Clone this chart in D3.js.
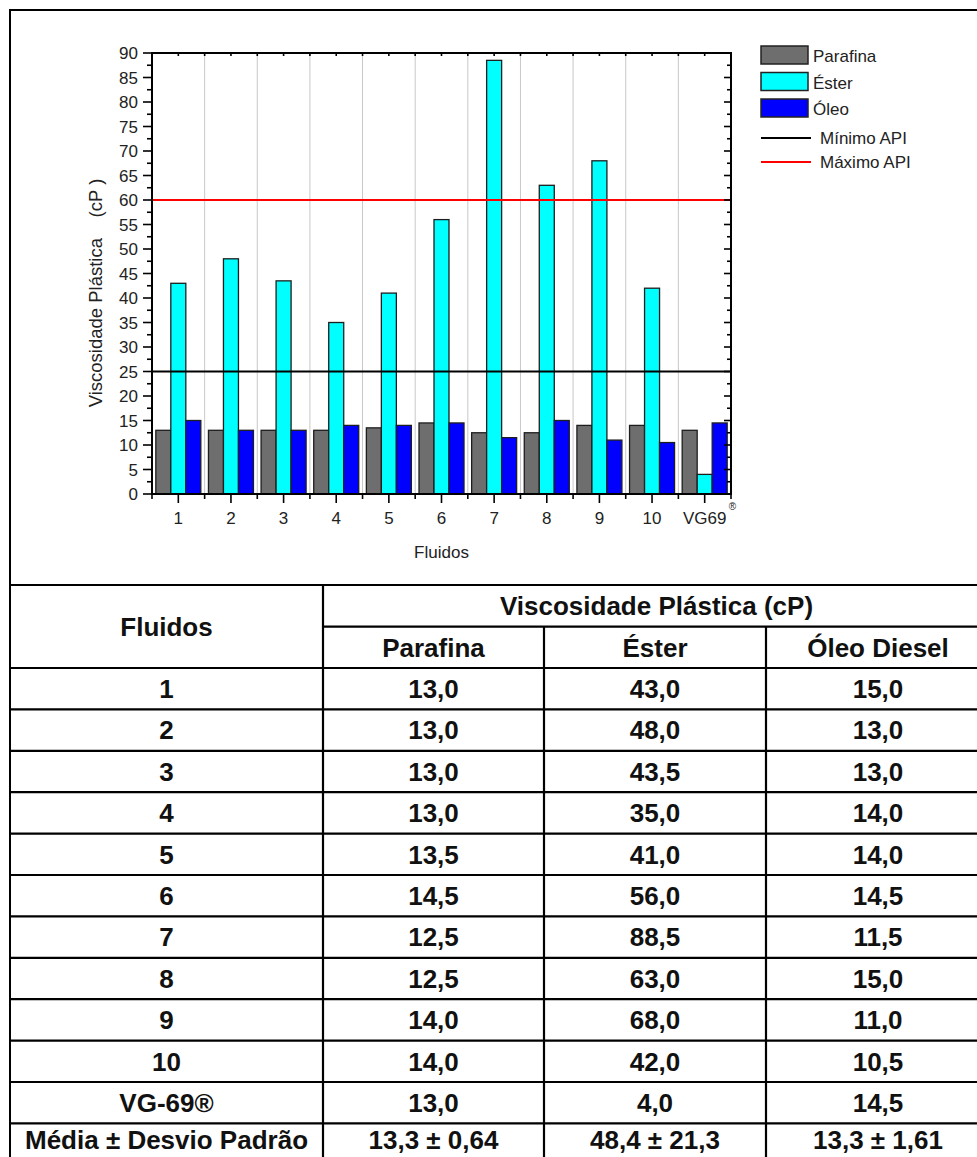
<!DOCTYPE html>
<html>
<head>
<meta charset="utf-8">
<script src="https://cdn.jsdelivr.net/npm/d3@7"></script>
<style>
  html, body { margin: 0; padding: 0; background: #fff; }
  svg { display: block; font-family: "Liberation Sans", Arial, sans-serif; }
</style>
</head>
<body>
<script>
// ---------------- DATA ----------------
const categories = ["1", "2", "3", "4", "5", "6", "7", "8", "9", "10", "VG69"];
const parafina = [13.0, 13.0, 13.0, 13.0, 13.5, 14.5, 12.5, 12.5, 14.0, 14.0, 13.0];
const ester    = [43.0, 48.0, 43.5, 35.0, 41.0, 56.0, 88.5, 63.0, 68.0, 42.0, 4.0];
const oleo     = [15.0, 13.0, 13.0, 14.0, 14.0, 14.5, 11.5, 15.0, 11.0, 10.5, 14.5];
const seriesNames = ["Parafina", "Éster", "Óleo"];
const apiMin = 25;
const apiMax = 60;
const lineNames = ["Mínimo API", "Máximo API"];
const yTicks = d3.range(0, 91, 5);
const yLabel = "Viscosidade Plástica    (cP )";
const xLabel = "Fluidos";

const tableRowLabels = ["1", "2", "3", "4", "5", "6", "7", "8", "9", "10", "VG-69®"];
const tableHeaderTop = "Viscosidade Plástica (cP)";
const tableHeaderCols = ["Parafina", "Éster", "Óleo Diesel"];
const tableFirstHeader = "Fluidos";
const meanLabel = "Média ± Desvio Padrão";
const meanValues = ["13,3 ± 0,64", "48,4 ± 21,3", "13,3 ± 1,61"];

// ---------------- SETUP ----------------
const W = 977, H = 1157;
const svg = d3.select("body").append("svg").attr("width", W).attr("height", H);

// outer frame
svg.append("rect").attr("x", 10).attr("y", 10).attr("width", 990).attr("height", 1170)
  .attr("fill", "#fff").attr("stroke", "#000").attr("stroke-width", 2);

// ---------------- CHART ----------------
const L = 152, R = 731, T = 53, B = 494;
const x = d3.scaleLinear().domain([0.5, categories.length + 0.5]).range([L, R]);
const y = d3.scaleLinear().domain([0, 90]).range([B, T]);
const fs = 17;

// vertical grid lines between groups
const g = svg.append("g");
g.selectAll("line.grid").data(d3.range(1.5, categories.length, 1)).join("line")
  .attr("x1", d => x(d)).attr("x2", d => x(d)).attr("y1", T).attr("y2", B)
  .attr("stroke", "#c8c8c8").attr("stroke-width", 1);

// bars
const colors = ["#6e6e6e", "#00ffff", "#0000ff"];
const series = [parafina, ester, oleo];
const bw = 15;
series.forEach((vals, si) => {
  g.selectAll("rect.s" + si).data(vals).join("rect")
    .attr("x", (d, i) => x(i + 1) - 1.5 * bw + si * bw)
    .attr("y", d => y(d))
    .attr("width", bw)
    .attr("height", d => y(0) - y(d))
    .attr("fill", colors[si])
    .attr("stroke", "#1e1e1e").attr("stroke-width", 1.3);
});

// API lines
g.append("line").attr("x1", L).attr("x2", R).attr("y1", y(apiMin)).attr("y2", y(apiMin))
  .attr("stroke", "#000").attr("stroke-width", 2);
g.append("line").attr("x1", L).attr("x2", R).attr("y1", y(apiMax)).attr("y2", y(apiMax))
  .attr("stroke", "#ff0000").attr("stroke-width", 2);

// axes frame
const ax = svg.append("g").attr("stroke", "#000").attr("stroke-width", 2).attr("fill", "none");
ax.append("line").attr("x1", L).attr("x2", L).attr("y1", T).attr("y2", B + 1);
ax.append("line").attr("x1", R).attr("x2", R).attr("y1", T).attr("y2", B + 1);
ax.append("line").attr("x1", L - 1).attr("x2", R + 1).attr("y1", T).attr("y2", T);
ax.append("line").attr("x1", L - 1).attr("x2", R + 1).attr("y1", B).attr("y2", B);

// left axis ticks (outside) + labels
const minorY = d3.range(2.5, 90, 5);
svg.selectAll("line.ymaj").data(yTicks).join("line")
  .attr("x1", L - 9).attr("x2", L).attr("y1", d => y(d)).attr("y2", d => y(d))
  .attr("stroke", "#000").attr("stroke-width", 1.6);
svg.selectAll("line.ymin").data(minorY).join("line")
  .attr("x1", L - 5).attr("x2", L).attr("y1", d => y(d)).attr("y2", d => y(d))
  .attr("stroke", "#000").attr("stroke-width", 1.6);
// right axis ticks (inside)
svg.selectAll("line.yrmaj").data(yTicks).join("line")
  .attr("x1", R - 7).attr("x2", R).attr("y1", d => y(d)).attr("y2", d => y(d))
  .attr("stroke", "#000").attr("stroke-width", 1.6);
svg.selectAll("line.yrmin").data(minorY).join("line")
  .attr("x1", R - 4).attr("x2", R).attr("y1", d => y(d)).attr("y2", d => y(d))
  .attr("stroke", "#000").attr("stroke-width", 1.6);
svg.selectAll("text.ytl").data(yTicks).join("text")
  .attr("x", L - 14).attr("y", d => y(d) + 6)
  .attr("text-anchor", "end").attr("font-size", fs).attr("fill", "#222")
  .text(d => d);

// bottom axis ticks
const xMaj = d3.range(1, categories.length + 1);
const xMin = d3.range(0.5, categories.length + 1, 1);
svg.selectAll("line.xmaj").data(xMaj).join("line")
  .attr("x1", d => x(d)).attr("x2", d => x(d)).attr("y1", B).attr("y2", B + 9)
  .attr("stroke", "#000").attr("stroke-width", 1.6);
svg.selectAll("line.xmin").data(xMin).join("line")
  .attr("x1", d => x(d)).attr("x2", d => x(d)).attr("y1", B).attr("y2", B + 5)
  .attr("stroke", "#000").attr("stroke-width", 1.6);
// top axis ticks (inside)
svg.selectAll("line.xtmaj").data(xMaj.concat(xMin)).join("line")
  .attr("x1", d => x(d)).attr("x2", d => x(d)).attr("y1", T).attr("y2", T + 3)
  .attr("stroke", "#000").attr("stroke-width", 1.6);

// x tick labels
svg.selectAll("text.xtl").data(categories).join("text")
  .attr("x", (d, i) => x(i + 1)).attr("y", 524)
  .attr("text-anchor", "middle").attr("font-size", fs).attr("fill", "#222")
  .text(d => d);
// registered mark on VG69
svg.append("text").attr("x", x(categories.length) + 24).attr("y", 510)
  .attr("font-size", 10).attr("fill", "#222").attr("text-anchor", "start").text("®");

// axis titles
svg.append("text").attr("x", (L + R) / 2).attr("y", 558)
  .attr("text-anchor", "middle").attr("font-size", fs).attr("fill", "#222").text(xLabel);
svg.append("text")
  .attr("transform", `translate(102, ${293}) rotate(-90)`)
  .attr("text-anchor", "middle").attr("font-size", 18.5).attr("fill", "#222")
  .style("white-space", "pre").text(yLabel);

// legend
const lg = svg.append("g");
seriesNames.forEach((n, i) => {
  const yy = 46 + i * 26.5;
  lg.append("rect").attr("x", 761).attr("y", yy).attr("width", 47).attr("height", 18)
    .attr("fill", colors[i]).attr("stroke", "#222").attr("stroke-width", 1.5);
  lg.append("text").attr("x", 813).attr("y", yy + 16).attr("font-size", fs).attr("fill", "#222").text(n);
});
const lineColors = ["#000", "#ff0000"];
lineNames.forEach((n, i) => {
  const yy = 138 + i * 24;
  lg.append("line").attr("x1", 761).attr("x2", 811).attr("y1", yy).attr("y2", yy)
    .attr("stroke", lineColors[i]).attr("stroke-width", 2);
  lg.append("text").attr("x", 820).attr("y", yy + 6).attr("font-size", fs).attr("fill", "#222").text(n);
});

// ---------------- TABLE ----------------
const tT = 585, hMid = 626.7, dTop = 668, rowH = 41.4;
const colX = [10, 323, 544, 766, 990];
const tfs = 26;
const tg = svg.append("g");
const tl = (x1, y1, x2, y2) => tg.append("line").attr("x1", x1).attr("y1", y1).attr("x2", x2).attr("y2", y2)
  .attr("stroke", "#000").attr("stroke-width", 2.2);

const nRows = tableRowLabels.length + 1;
const tBottom = dTop + nRows * rowH;
tl(10, tT, 990, tT);
tl(colX[1], hMid, 990, hMid);
for (let r = 0; r < nRows; r++) tl(10, dTop + r * rowH, 990, dTop + r * rowH);
tl(colX[1], tT, colX[1], tBottom + 20);
tl(colX[2], hMid, colX[2], tBottom + 20);
tl(colX[3], hMid, colX[3], tBottom + 20);

const cell = (txt, cx, cy) => tg.append("text").attr("x", cx).attr("y", cy + tfs * 0.36)
  .attr("text-anchor", "middle").attr("font-size", tfs).attr("font-weight", "bold").attr("fill", "#111").text(txt);
const ctr = i => (colX[i] + colX[i + 1]) / 2;

cell(tableFirstHeader, ctr(0), (tT + dTop) / 2);
cell(tableHeaderTop, (colX[1] + colX[4]) / 2, (tT + hMid) / 2);
tableHeaderCols.forEach((h, i) => cell(h, ctr(i + 1), (hMid + dTop) / 2));

const fmt = v => v.toFixed(1).replace(".", ",");
tableRowLabels.forEach((lab, r) => {
  const cy = dTop + r * rowH + rowH / 2;
  cell(lab, ctr(0), cy);
  cell(fmt(parafina[r]), ctr(1), cy);
  cell(fmt(ester[r]), ctr(2), cy);
  cell(fmt(oleo[r]), ctr(3), cy);
});
// mean row sits at the cut-off bottom edge; keep its text fully visible
const my = 1150 - tfs * 0.36 - 1;
cell(meanLabel, ctr(0), my);
meanValues.forEach((v, i) => cell(v, ctr(i + 1), my));
</script>
</body>
</html>
